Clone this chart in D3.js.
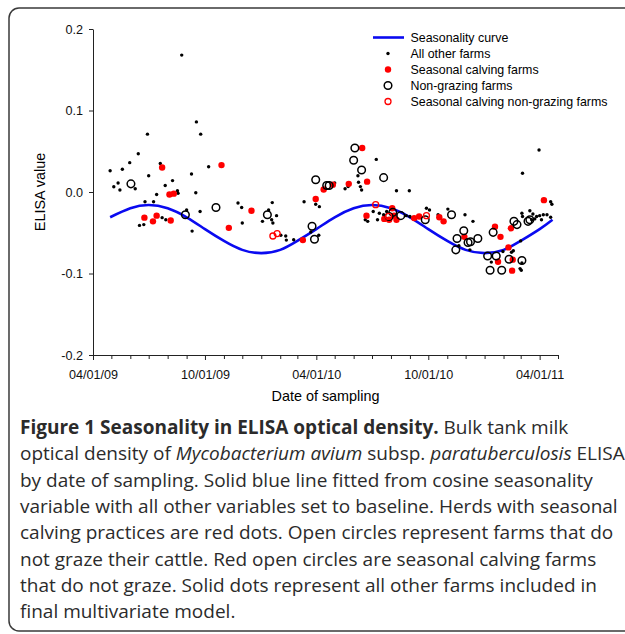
<!DOCTYPE html>
<html>
<head>
<meta charset="utf-8">
<script src="https://cdn.jsdelivr.net/npm/d3@7/dist/d3.min.js"></script>
<style>
    body { margin: 0; background: #fff; }
</style>
</head>
<body>
<svg id="figure" width="625" height="634"></svg>
<script>
// seasonality curve
const seasonCurve = [
    ['2009-04-29', -0.031], ['2009-06-01', -0.020], ['2009-07-01', -0.016], ['2009-08-01', -0.020],
    ['2009-09-01', -0.031], ['2009-10-01', -0.0455], ['2009-11-01', -0.060], ['2009-12-01', -0.071],
    ['2010-01-01', -0.075], ['2010-02-01', -0.071], ['2010-03-01', -0.060], ['2010-04-01', -0.0455],
    ['2010-05-01', -0.031], ['2010-06-01', -0.020], ['2010-07-01', -0.016], ['2010-08-01', -0.020],
    ['2010-09-01', -0.031], ['2010-10-01', -0.0455], ['2010-11-01', -0.060], ['2010-12-01', -0.071],
    ['2011-01-01', -0.075], ['2011-02-01', -0.071], ['2011-03-01', -0.060], ['2011-04-01', -0.0455],
    ['2011-04-22', -0.034]
];

// all other farms (small black dots)
const otherFarms = [
    ['2009-04-29', 0.026], ['2009-05-05', 0.0065], ['2009-05-12', 0.011], ['2009-05-15', 0.0025],
    ['2009-05-19', 0.028], ['2009-05-31', 0.036], ['2009-06-09', 0.004], ['2009-06-14', 0.047],
    ['2009-06-16', -0.041], ['2009-06-23', -0.040], ['2009-06-25', -0.012], ['2009-06-29', 0.071],
    ['2009-07-01', 0.020], ['2009-07-09', -0.012], ['2009-07-14', -0.003], ['2009-07-20', 0.035],
    ['2009-07-23', -0.0315], ['2009-07-29', -0.034], ['2009-07-28', 0.008], ['2009-08-09', 0.014],
    ['2009-08-17', 0.0016], ['2009-08-18', -0.0016], ['2009-08-24', 0.168], ['2009-09-01', -0.022],
    ['2009-09-09', 0.022], ['2009-09-10', -0.048], ['2009-09-16', -0.001], ['2009-09-17', 0.086],
    ['2009-09-23', -0.024], ['2009-09-24', 0.071], ['2009-10-07', 0.031],
    ['2009-11-24', -0.0135], ['2009-11-30', -0.019], ['2009-12-01', -0.038],
    ['2010-01-03', -0.036], ['2010-01-13', -0.022], ['2010-01-19', -0.013], ['2010-01-18', -0.034],
    ['2010-01-20', -0.038], ['2010-01-26', -0.029], ['2010-02-02', -0.053], ['2010-02-10', -0.054],
    ['2010-02-11', -0.059], ['2010-02-23', -0.0585], ['2010-03-12', -0.012], ['2010-03-23', -0.049],
    ['2010-03-31', -0.015], ['2010-04-06', -0.018], ['2010-04-05', -0.053],
    ['2010-05-01', 0.011], ['2010-05-18', 0.004], ['2010-05-23', 0.0066], ['2010-06-08', 0.020],
    ['2010-06-09', 0.012], ['2010-06-12', 0.0066], ['2010-06-14', 0.0025], ['2010-07-08', 0.040],
    ['2010-08-10', 0.0016], ['2010-08-31', 0.0016],
    ['2010-06-24', -0.036], ['2010-06-20', -0.034], ['2010-07-03', -0.024], ['2010-07-10', -0.034],
    ['2010-07-13', -0.026], ['2010-07-20', -0.028], ['2010-07-25', -0.024], ['2010-08-26', -0.029],
    ['2010-09-01', -0.030], ['2010-09-28', -0.020], ['2010-10-03', -0.022], ['2010-10-17', -0.028],
    ['2010-11-02', -0.021], ['2010-11-30', -0.028], ['2010-12-13', -0.036], ['2010-11-20', -0.066],
    ['2010-12-08', -0.071],
    ['2011-01-12', -0.086], ['2011-01-31', -0.073], ['2011-02-14', -0.074], ['2011-02-17', -0.072],
    ['2011-02-28', -0.094], ['2011-03-02', -0.096], ['2011-03-03', -0.087], ['2011-03-01', -0.060],
    ['2011-03-04', 0.023], ['2011-03-31', 0.0515], ['2011-04-19', -0.012], ['2011-04-21', -0.015],
    ['2011-03-03', -0.026], ['2011-03-04', -0.030], ['2011-03-16', -0.023], ['2011-03-21', -0.027],
    ['2011-03-27', -0.030], ['2011-04-01', -0.029], ['2011-04-07', -0.028], ['2011-04-13', -0.028],
    ['2011-04-19', -0.031], ['2011-03-19', -0.034], ['2011-03-24', -0.033], ['2011-04-04', -0.034]
];

// seasonal calving farms (red dots)
const calvingFarms = [
    ['2009-06-24', -0.0315], ['2009-07-08', -0.036], ['2009-07-14', -0.029], ['2009-07-23', 0.030],
    ['2009-08-04', -0.003], ['2009-08-11', -0.002], ['2009-08-06', -0.035], ['2009-10-28', 0.033],
    ['2009-11-09', -0.044], ['2009-12-16', -0.023],
    ['2010-03-10', -0.059], ['2010-03-31', -0.0086], ['2010-04-13', 0.003], ['2010-04-28', 0.009],
    ['2010-05-24', 0.010], ['2010-06-15', 0.054], ['2010-06-23', 0.0127], ['2010-06-22', -0.029],
    ['2010-07-21', -0.033], ['2010-07-29', -0.034], ['2010-08-03', -0.020], ['2010-08-06', -0.029],
    ['2010-08-10', -0.034], ['2010-09-08', -0.032], ['2010-09-16', -0.030], ['2010-10-19', -0.031],
    ['2010-10-26', -0.036], ['2010-11-29', -0.055],
    ['2011-01-18', -0.0425], ['2011-01-27', -0.055], ['2011-01-23', -0.0855], ['2011-02-09', -0.068],
    ['2011-02-15', -0.0965], ['2011-02-16', -0.083], ['2011-02-13', -0.0445], ['2011-04-08', -0.010]
];

// non-grazing farms (open circles)
const nonGrazingFarms = [
    ['2009-06-02', 0.010], ['2009-08-30', -0.028], ['2009-10-19', -0.019], ['2010-01-11', -0.028],
    ['2010-03-25', -0.042], ['2010-03-29', -0.058], ['2010-03-31', 0.015], ['2010-04-18', 0.008],
    ['2010-04-22', 0.008], ['2010-06-03', 0.054], ['2010-06-01', 0.039], ['2010-06-14', 0.027],
    ['2010-07-20', 0.0176], ['2010-07-29', -0.030], ['2010-08-04', -0.025], ['2010-08-17', -0.029],
    ['2010-09-26', -0.034], ['2010-11-08', -0.028], ['2010-11-28', -0.0475], ['2010-11-17', -0.057],
    ['2010-11-15', -0.071], ['2010-12-05', -0.062], ['2010-12-09', -0.061], ['2010-12-21', -0.057],
    ['2011-01-15', -0.0495], ['2011-01-06', -0.0785], ['2011-01-20', -0.0785], ['2011-01-10', -0.096],
    ['2011-01-29', -0.096], ['2011-02-10', -0.0826], ['2011-03-03', -0.084], ['2011-02-18', -0.036],
    ['2011-02-23', -0.040], ['2011-03-13', -0.036], ['2011-03-16', -0.034]
];

// seasonal calving non-grazing farms (red open circles)
const calvingNonGrazingFarms = [
    ['2010-01-20', -0.054], ['2010-01-27', -0.051], ['2010-07-07', -0.0155], ['2010-07-28', -0.030],
    ['2010-09-28', -0.029]
];

const yTicks = [-0.2, -0.1, 0.0, 0.1, 0.2];
const xLabelMonths = [3, 9]; // April and October carry labels
const legendLabels = ['Seasonality curve', 'All other farms', 'Seasonal calving farms',
    'Non-grazing farms', 'Seasonal calving non-grazing farms'];

const captionLines = [
    [['Figure 1 Seasonality in ELISA optical density.', 'b'], [' Bulk tank milk', '']],
    [['optical density of ', ''], ['Mycobacterium avium', 'i'], [' subsp. ', ''], ['paratuberculosis', 'i'], [' ELISA', '']],
    [['by date of sampling. Solid blue line fitted from cosine seasonality', '']],
    [['variable with all other variables set to baseline. Herds with seasonal', '']],
    [['calving practices are red dots. Open circles represent farms that do', '']],
    [['not graze their cattle. Red open circles are seasonal calving farms', '']],
    [['that do not graze. Solid dots represent all other farms included in', '']],
    [['final multivariate model.', '']]
];

const parse = d3.timeParse('%Y-%m-%d');
const svg = d3.select('#figure');
const chartFont = '"Liberation Sans", Arial, sans-serif';

// frame round figure
svg.append('rect')
    .attr('x', 9).attr('y', 8)
    .attr('width', 660).attr('height', 623)
    .attr('rx', 10)
    .attr('fill', 'none')
    .attr('stroke', '#3a3a3a')
    .attr('stroke-width', 1.5);

const x = d3.scaleTime()
    .domain([new Date(2009, 3, 1), new Date(2011, 4, 1)])
    .range([93, 558]);
const y = d3.scaleLinear()
    .domain([-0.2, 0.2])
    .range([355, 29]);

// axes
const fmtY = d3.format('.1f');
const yAxis = svg.append('g')
    .attr('transform', 'translate(93,0)')
    .call(d3.axisLeft(y).tickValues(yTicks).tickSize(4).tickSizeOuter(0).tickPadding(6)
        .tickFormat(d => fmtY(d).replace('\u2212', '-')));

const fmtX = d3.timeFormat('%m/%d/%y');
const xAxis = svg.append('g')
    .attr('transform', 'translate(0,355)')
    .call(d3.axisBottom(x).ticks(d3.timeMonth.every(1)).tickSize(5).tickSizeOuter(0).tickPadding(10)
        .tickFormat(d => xLabelMonths.includes(d.getMonth()) ? fmtX(d) : ''));
xAxis.selectAll('.tick line')
    .attr('y2', d => xLabelMonths.includes(d.getMonth()) ? 5 : 4);

[xAxis, yAxis].forEach(g => {
    g.selectAll('path, line').attr('stroke', '#222');
    g.selectAll('text')
        .attr('fill', '#111')
        .style('font-family', chartFont)
        .style('font-size', '12.6px');
});

svg.append('text')
    .attr('x', 325.5).attr('y', 401)
    .attr('text-anchor', 'middle')
    .style('font-family', chartFont).style('font-size', '14.4px')
    .text('Date of sampling');
svg.append('text')
    .attr('transform', 'translate(45,192) rotate(-90)')
    .attr('text-anchor', 'middle')
    .style('font-family', chartFont).style('font-size', '14.4px')
    .text('ELISA value');

// seasonality curve
const line = d3.line()
    .x(d => x(parse(d[0])))
    .y(d => y(d[1]))
    .curve(d3.curveNatural);
svg.append('path')
    .datum(seasonCurve)
    .attr('d', line)
    .attr('fill', 'none')
    .attr('stroke', '#0a0af0')
    .attr('stroke-width', 2.6);

// markers
const markers = [
    { data: otherFarms, r: 1.7, fill: '#000', stroke: 'none', sw: 0 },
    { data: calvingFarms, r: 3.2, fill: '#ff0000', stroke: 'none', sw: 0 },
    { data: nonGrazingFarms, r: 3.8, fill: 'none', stroke: '#000', sw: 1.5 },
    { data: calvingNonGrazingFarms, r: 3, fill: 'none', stroke: '#ff0000', sw: 1.3 }
];
markers.forEach(m => {
    svg.append('g')
        .selectAll('circle')
        .data(m.data)
        .join('circle')
        .attr('cx', d => x(parse(d[0])))
        .attr('cy', d => y(d[1]))
        .attr('r', m.r)
        .attr('fill', m.fill)
        .attr('stroke', m.stroke)
        .attr('stroke-width', m.sw);
});

// legend
const legend = svg.append('g');
const rowY = i => 37.5 + i * 16;
legend.append('line')
    .attr('x1', 373).attr('x2', 404)
    .attr('y1', rowY(0)).attr('y2', rowY(0))
    .attr('stroke', '#0a0af0').attr('stroke-width', 2.6);
markers.forEach((m, i) => {
    legend.append('circle')
        .attr('cx', 388).attr('cy', rowY(i + 1))
        .attr('r', m.r)
        .attr('fill', m.fill)
        .attr('stroke', m.stroke)
        .attr('stroke-width', m.sw);
});
legend.selectAll('text')
    .data(legendLabels)
    .join('text')
    .attr('x', 410.5)
    .attr('y', (d, i) => rowY(i))
    .attr('dy', '0.36em')
    .style('font-family', chartFont)
    .style('font-size', '12.4px')
    .text(d => d);

// caption
const caption = svg.append('g')
    .style('font-family', '"Open Sans", "Noto Sans", sans-serif')
    .style('font-size', '16px')
    .attr('fill', '#2b2b2b');
captionLines.forEach((segs, i) => {
    const t = caption.append('text')
        .attr('x', 20)
        .attr('y', 434 + i * 26.3);
    segs.forEach(s => {
        t.append('tspan')
            .attr('font-weight', s[1] === 'b' ? 'bold' : null)
            .attr('font-style', s[1] === 'i' ? 'italic' : null)
            .text(s[0]);
    });
});
// fit caption width to the printed page
const w3 = caption.selectAll('text').nodes()[2].getComputedTextLength();
caption.style('font-size', (16 * 573 / w3).toFixed(2) + 'px');
</script>
</body>
</html>
